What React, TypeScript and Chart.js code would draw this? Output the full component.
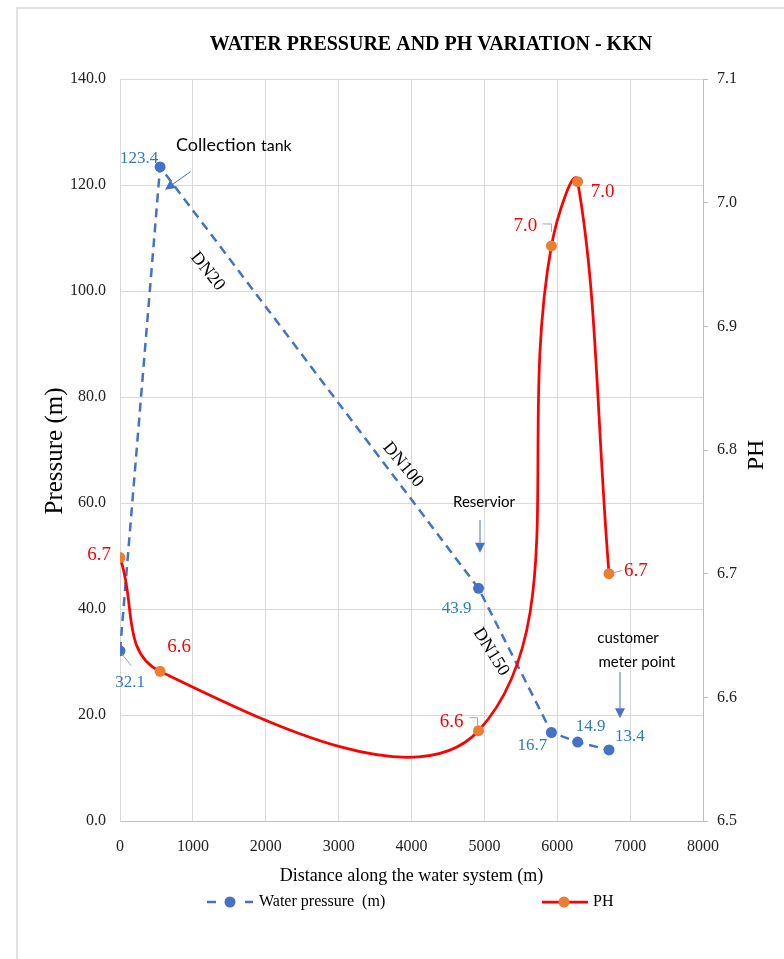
import { useEffect, useRef } from 'react';
import { Chart, registerables } from 'chart.js';

Chart.register(...registerables);

const SERIF = '"Liberation Serif", "Times New Roman", serif';
const SANS = 'Lato, "Liberation Sans", sans-serif';

// Measurement stations along the network (m)
const distance = [0, 550, 4920, 5920, 6280, 6710];
// Water pressure at each station (m)
const waterPressure = [32.1, 123.4, 43.9, 16.7, 14.9, 13.4];
// pH at each station
const phValue = [6.713, 6.621, 6.573, 6.965, 7.017, 6.7];

const distanceTicks = [0, 1000, 2000, 3000, 4000, 5000, 6000, 7000, 8000];
const pressureTicks = [0, 20, 40, 60, 80, 100, 120, 140];
const phTicks = [6.5, 6.6, 6.7, 6.8, 6.9, 7.0, 7.1];

const PRESSURE_COLOR = '#4472C4';
const PRESSURE_LABEL = '#2E7BC4';
const PH_LINE = '#FF0000';
const PH_MARKER = '#ED7D31';
const GRID = '#d9d9d9';
const AXIS = '#bfbfbf';
const LEADER = '#a6a6a6';

// Data label placement, pixels from each marker centre
const pressureLabelOffset = [[10, 32], [-21, -8], [-22, 20], [-19, 13], [13, -15], [21, -13]];
const phLabelOffset = [[-21, -3], [19, -24], [-27, -9], [-26, -20], [25, 10], [27, -3]];

// Leader lines (pixel polylines relative to the marker), keyed by point index
const pressureLeaders: Record<number, number[][]> = { 0: [[2, 3], [11, 15]] };
const phLeaders: Record<number, number[][]> = {
  2: [[-9, -13], [-1, -13], [-1, -5]],
  3: [[-9, -22], [0, -22], [0, -14]],
  5: [[5, -1], [13, -3]],
};

// Pipe-section labels, placed in data units (m along system, m of pressure)
const pipeLabels = [
  { text: 'DN20', x: 1201, y: 103.7, angle: 51 },
  { text: 'DN100', x: 3883, y: 67.2, angle: 50 },
  { text: 'DN150', x: 5091, y: 31.9, angle: 58 },
];

type Pt = [number, number];
const callouts: { lines: { text: string; x: number; y: number }[]; from: Pt; to: Pt }[] = [
  { lines: [{ text: 'Reservior', x: 4995, y: 60.2 }], from: [4940, 56.8], to: [4940, 50.6] },
  {
    lines: [
      { text: 'customer', x: 6971, y: 34.5 },
      { text: 'meter point', x: 7094, y: 30.0 },
    ],
    from: [6861, 28.1],
    to: [6861, 19.4],
  },
];
const tankLabel = { x: 768, y: 127.5 };
const tankArrow: { from: Pt; to: Pt } = { from: [966, 122.5], to: [617, 119.1] };

function drawText(
  ctx: CanvasRenderingContext2D,
  str: string,
  x: number,
  y: number,
  font: string,
  color: string,
  align: CanvasTextAlign = 'center',
  angleDeg = 0
) {
  ctx.save();
  ctx.translate(x, y);
  if (angleDeg) ctx.rotate((angleDeg * Math.PI) / 180);
  ctx.font = font;
  ctx.fillStyle = color;
  ctx.textAlign = align;
  ctx.textBaseline = 'middle';
  ctx.fillText(str, 0, 0);
  ctx.restore();
}

function drawArrow(ctx: CanvasRenderingContext2D, x1: number, y1: number, x2: number, y2: number) {
  const ang = Math.atan2(y2 - y1, x2 - x1);
  const len = 10;
  const half = 5;
  const bx = x2 - len * Math.cos(ang);
  const by = y2 - len * Math.sin(ang);
  ctx.save();
  ctx.strokeStyle = PRESSURE_COLOR;
  ctx.fillStyle = PRESSURE_COLOR;
  ctx.lineWidth = 1;
  ctx.beginPath();
  ctx.moveTo(x1, y1);
  ctx.lineTo(bx, by);
  ctx.stroke();
  ctx.beginPath();
  ctx.moveTo(x2, y2);
  ctx.lineTo(bx + half * Math.sin(ang), by - half * Math.cos(ang));
  ctx.lineTo(bx - half * Math.sin(ang), by + half * Math.cos(ang));
  ctx.closePath();
  ctx.fill();
  ctx.restore();
}

function drawLeader(ctx: CanvasRenderingContext2D, px: number, py: number, pts: number[][]) {
  ctx.save();
  ctx.strokeStyle = LEADER;
  ctx.lineWidth = 1;
  ctx.beginPath();
  pts.forEach(([dx, dy], i) => (i ? ctx.lineTo(px + dx, py + dy) : ctx.moveTo(px + dx, py + dy)));
  ctx.stroke();
  ctx.restore();
}

const decorPlugin = {
  id: 'decor',
  beforeDraw(chart: Chart) {
    const { ctx } = chart;
    ctx.save();
    ctx.fillStyle = '#ffffff';
    ctx.fillRect(0, 0, chart.width, chart.height);
    ctx.strokeStyle = GRID;
    ctx.lineWidth = 1.5;
    ctx.strokeRect(17, 8, chart.width + 20, chart.height + 20);
    ctx.restore();
  },
  afterDatasetsDraw(chart: Chart) {
    const { ctx } = chart;
    const X = (v: number) => chart.scales.x.getPixelForValue(v);
    const Y = (v: number) => chart.scales.y.getPixelForValue(v);

    // pipe diameters along the pressure line
    pipeLabels.forEach((p) =>
      drawText(ctx, p.text, X(p.x), Y(p.y), `18px ${SERIF}`, '#000', 'center', p.angle)
    );

    // collection tank callout
    ctx.save();
    ctx.font = `18px ${SANS}`;
    const w = ctx.measureText('Collection').width;
    ctx.restore();
    drawText(ctx, 'Collection', X(tankLabel.x), Y(tankLabel.y), `18px ${SANS}`, '#000', 'left');
    drawText(ctx, 'tank', X(tankLabel.x) + w + 5, Y(tankLabel.y) + 1, `16px ${SANS}`, '#000', 'left');
    drawArrow(ctx, X(tankArrow.from[0]), Y(tankArrow.from[1]), X(tankArrow.to[0]), Y(tankArrow.to[1]));

    callouts.forEach((c) => {
      c.lines.forEach((l) => drawText(ctx, l.text, X(l.x), Y(l.y), `15px ${SANS}`, '#000'));
      drawArrow(ctx, X(c.from[0]), Y(c.from[1]), X(c.to[0]), Y(c.to[1]));
    });

    // data labels
    const phMeta = chart.getDatasetMeta(0);
    const prMeta = chart.getDatasetMeta(1);
    prMeta.data.forEach((el: any, i: number) => {
      if (pressureLeaders[i]) drawLeader(ctx, el.x, el.y, pressureLeaders[i]);
      const [dx, dy] = pressureLabelOffset[i];
      drawText(ctx, waterPressure[i].toFixed(1), el.x + dx, el.y + dy, `17px ${SERIF}`, PRESSURE_LABEL);
    });
    phMeta.data.forEach((el: any, i: number) => {
      if (phLeaders[i]) drawLeader(ctx, el.x, el.y, phLeaders[i]);
      const [dx, dy] = phLabelOffset[i];
      drawText(ctx, phValue[i].toFixed(1), el.x + dx, el.y + dy, `19px ${SERIF}`, PH_LINE);
    });
  },
  afterDraw(chart: Chart) {
    const { ctx, chartArea } = chart;
    drawText(ctx, 'WATER PRESSURE AND PH VARIATION - KKN', 431, 45, `bold 20px ${SERIF}`, '#000');
    drawText(ctx, 'Pressure (m)', 55, 451, `25px ${SERIF}`, '#000', 'center', -90);
    drawText(ctx, 'PH', 757, 455, `24px ${SERIF}`, '#000', 'center', -90);
    drawText(ctx, 'Distance along the water system (m)', (chartArea.left + chartArea.right) / 2, 876, `18px ${SERIF}`, '#000');

    // legend
    const ly = 902;
    ctx.save();
    ctx.lineWidth = 2.5;
    ctx.strokeStyle = PRESSURE_COLOR;
    ctx.beginPath();
    ctx.moveTo(207, ly);
    ctx.lineTo(216, ly);
    ctx.moveTo(245, ly);
    ctx.lineTo(253, ly);
    ctx.stroke();
    ctx.fillStyle = PRESSURE_COLOR;
    ctx.beginPath();
    ctx.arc(230, ly, 5.5, 0, Math.PI * 2);
    ctx.fill();
    ctx.strokeStyle = PH_LINE;
    ctx.lineWidth = 2.75;
    ctx.beginPath();
    ctx.moveTo(542, ly);
    ctx.lineTo(588, ly);
    ctx.stroke();
    ctx.fillStyle = PH_MARKER;
    ctx.beginPath();
    ctx.arc(564, ly, 5.5, 0, Math.PI * 2);
    ctx.fill();
    ctx.restore();
    drawText(ctx, 'Water pressure  (m)', 259, ly, `16px ${SERIF}`, '#000', 'left');
    drawText(ctx, 'PH', 593, ly, `16px ${SERIF}`, '#000', 'left');
  },
};

const fixedTicks = (values: number[]) => (scale: any) => {
  scale.ticks = values.map((value) => ({ value }));
};

export default function App() {
  const canvasRef = useRef<HTMLCanvasElement | null>(null);

  useEffect(() => {
    if (!canvasRef.current) return;
    const chart = new Chart(canvasRef.current, {
      type: 'line',
      data: {
        datasets: [
          {
            label: 'PH',
            data: distance.map((x, i) => ({ x, y: phValue[i] })),
            yAxisID: 'y1',
            borderColor: PH_LINE,
            borderWidth: 2.75,
            backgroundColor: PH_MARKER,
            pointBackgroundColor: PH_MARKER,
            pointBorderColor: PH_MARKER,
            pointRadius: 5.5,
            pointBorderWidth: 0,
            tension: 0.4,
            order: 0,
          },
          {
            label: 'Water pressure  (m)',
            data: distance.map((x, i) => ({ x, y: waterPressure[i] })),
            yAxisID: 'y',
            borderColor: PRESSURE_COLOR,
            borderWidth: 2.5,
            borderDash: [9, 6],
            backgroundColor: PRESSURE_COLOR,
            pointBackgroundColor: PRESSURE_COLOR,
            pointBorderColor: PRESSURE_COLOR,
            pointRadius: 5.5,
            pointBorderWidth: 0,
            tension: 0,
            order: 1,
          },
        ],
      },
      options: {
        responsive: false,
        animation: false,
        events: [],
        layout: { padding: { top: 79, left: 0, right: 0, bottom: 0 } },
        plugins: { legend: { display: false }, title: { display: false }, tooltip: { enabled: false } },
        scales: {
          x: {
            type: 'linear',
            min: 0,
            max: 8000,
            afterBuildTicks: fixedTicks(distanceTicks),
            afterFit: (s: any) => {
              s.height = 138;
            },
            grid: { color: GRID, drawTicks: false },
            border: { color: AXIS },
            ticks: {
              font: { family: SERIF, size: 16 },
              color: '#222',
              padding: 16,
              maxRotation: 0,
              callback: (v: any) => String(v),
            },
          },
          y: {
            position: 'left',
            min: 0,
            max: 140,
            afterBuildTicks: fixedTicks(pressureTicks),
            afterFit: (s: any) => {
              s.width = 120;
            },
            grid: { color: GRID, drawTicks: false },
            border: { color: GRID },
            ticks: {
              font: { family: SERIF, size: 16 },
              color: '#222',
              padding: 14,
              callback: (v: any) => Number(v).toFixed(1),
            },
          },
          y1: {
            position: 'right',
            min: 6.5,
            max: 7.1,
            afterBuildTicks: fixedTicks(phTicks),
            afterFit: (s: any) => {
              s.width = 81;
            },
            grid: { drawOnChartArea: false, drawTicks: true, tickLength: 5, tickColor: AXIS },
            border: { color: AXIS },
            ticks: {
              font: { family: SERIF, size: 16 },
              color: '#222',
              padding: 9,
              callback: (v: any) => Number(v).toFixed(1),
            },
          },
        },
      },
      plugins: [decorPlugin],
    } as any);
    return () => chart.destroy();
  }, []);

  return (
    <div style={{ position: 'absolute', left: 0, top: 0, width: 784, height: 959, background: '#fff' }}>
      <canvas ref={canvasRef} width={784} height={959} style={{ display: 'block' }} />
    </div>
  );
}
